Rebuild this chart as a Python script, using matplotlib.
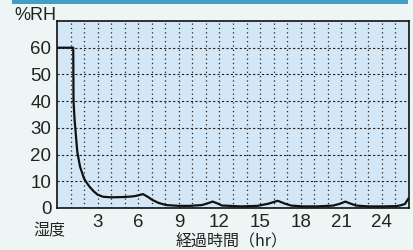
import matplotlib
matplotlib.use("Agg")
import matplotlib.pyplot as plt
from matplotlib.patches import Rectangle
import numpy as np

plt.rcParams['font.family'] = ['Liberation Sans', 'Noto Sans CJK JP']

hours = [0, 1.2, 1.22, 1.3, 1.4, 1.5, 1.7, 2.0, 2.2, 2.4, 2.7, 3.0, 3.4, 4.0, 4.9, 5.5, 5.8,
         6.35, 6.7, 7.05, 7.5, 8.06, 9.0, 9.8, 10.7, 11.1, 11.5, 11.9, 12.2, 12.35, 13.6,
         14.8, 15.6, 16.3, 16.8, 17.3, 18.2, 19.2, 20.4, 20.9, 21.3, 21.7, 22.1, 23.0,
         24.1, 25.0, 25.3, 25.7, 25.95]
rh = [60, 60, 40, 33, 27, 21, 15.5, 11, 9.4, 8, 6.3, 5, 4.2, 4.0, 4.1, 4.3, 4.5,
      5.2, 4.2, 3.0, 1.9, 1.1, 0.8, 0.8, 1.1, 1.7, 2.4, 1.6, 0.9, 0.9, 0.6,
      0.8, 1.6, 2.7, 1.7, 0.9, 0.6, 0.6, 0.9, 1.6, 2.4, 1.6, 0.9, 0.6,
      0.6, 0.7, 0.9, 1.5, 3.5]

xticks = [3, 6, 9, 12, 15, 18, 21, 24]
yticks = [0, 10, 20, 30, 40, 50, 60]

fig = plt.figure(figsize=(4.14, 2.5), dpi=100)
fig.patch.set_facecolor('#edf6f5')
fig.add_artist(Rectangle((12/414, 1-4/250), 396/414, 4/250, transform=fig.transFigure,
                         facecolor='#3f9fc4', edgecolor='none'))

ax = fig.add_axes([57/414, 42/250, 352/414, 187/250])
ax.set_facecolor('#d3e7f6')
ax.plot(hours, rh, color='#111111', lw=1.6, solid_joinstyle='round')
ax.set_xlim(0, 26)
ax.set_ylim(0, 70)
ax.set_xticks(xticks)
ax.set_yticks(yticks)
ax.tick_params(which='both', length=0, labelsize=13.5, colors='#222222', pad=4)
ax.grid(False)
for v in np.arange(1, 26):
    ax.axvline(v, color='#222222', lw=0.9, ls=(0, (1, 2.5)), zorder=0.5)
for v in [10, 20, 30, 40, 50, 60]:
    ax.axhline(v, color='#222222', lw=0.8, ls=(0, (2, 2)), zorder=0.5)
for s in ax.spines.values():
    s.set_color('#111111')
    s.set_linewidth(1.2)

fig.text(14/414, 1-15/250, '%RH', fontsize=13, va='center', ha='left', color='#222222')
fig.text(33/414, 1-231/250, '湿度', fontsize=11.5, va='center', ha='left', color='#222222',
         family=['Noto Sans CJK JP'])
fig.text(232/414, 1-242/250, '経過時間（hr）', fontsize=11.5, va='center', ha='center', color='#222222',
         family=['Noto Sans CJK JP'])

fig.savefig('out.png', dpi=100, facecolor=fig.get_facecolor())
